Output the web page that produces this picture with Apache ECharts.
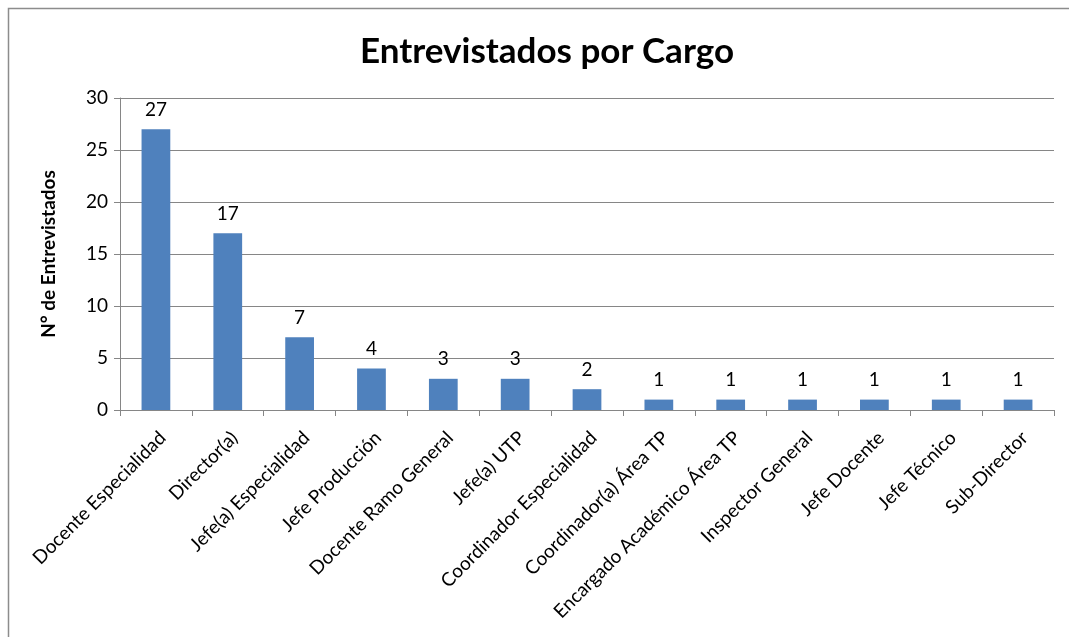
<!DOCTYPE html>
<html>
<head>
<meta charset="utf-8">
<script src="https://cdn.jsdelivr.net/npm/echarts@6/dist/echarts.min.js"></script>
<style>
  html, body { margin: 0; padding: 0; background: #fff; }
  #chart { width: 1069px; height: 637px; }
</style>
</head>
<body>
<div id="chart"></div>
<script>
// Interviewees grouped by job title
const cargos = [
  'Docente Especialidad', 'Director(a)', 'Jefe(a) Especialidad', 'Jefe Producción',
  'Docente Ramo General', 'Jefe(a) UTP', 'Coordinador Especialidad',
  'Coordinador(a) Área TP', 'Encargado Académico Área TP', 'Inspector General',
  'Jefe Docente', 'Jefe Técnico', 'Sub-Director'
];
const entrevistados = [27, 17, 7, 4, 3, 3, 2, 1, 1, 1, 1, 1, 1];
const yTicks = { min: 0, max: 30, interval: 5 };

const FONT = 'Lato, "Open Sans", sans-serif';
const GRID_COLOR = '#868686';

const chart = echarts.init(document.getElementById('chart'), null, { renderer: 'canvas' });
chart.setOption({
  animation: false,
  backgroundColor: '#ffffff',
  textStyle: { fontFamily: FONT },
  graphic: [{
    type: 'rect',
    shape: { x: 8.5, y: 8.5, width: 1080, height: 700 },
    style: { fill: 'none', stroke: '#8c8c8c', lineWidth: 1.5 },
    silent: true
  }],
  title: {
    text: 'Entrevistados por Cargo',
    left: 542, top: 29, textAlign: 'center',
    textStyle: { fontFamily: FONT, fontWeight: 'bold', fontSize: 35, color: '#000' }
  },
  grid: { left: 120, right: 15, top: 98, bottom: 227, containLabel: false },
  xAxis: {
    type: 'category',
    data: cargos,
    axisLine: { lineStyle: { color: GRID_COLOR, width: 1 } },
    axisTick: { show: true, length: 6, alignWithLabel: false, lineStyle: { color: GRID_COLOR } },
    axisLabel: {
      interval: 0, rotate: 45, margin: 18, verticalAlign: 'top',
      fontFamily: FONT, fontSize: 19, color: '#000'
    }
  },
  yAxis: {
    type: 'value',
    min: yTicks.min, max: yTicks.max, interval: yTicks.interval,
    name: 'N° de Entrevistados',
    nameLocation: 'middle', nameGap: 62, nameRotate: 90,
    nameTextStyle: { fontFamily: FONT, fontWeight: 'bold', fontSize: 19, color: '#000' },
    axisLine: { show: true, lineStyle: { color: GRID_COLOR, width: 1 } },
    axisTick: { show: true, length: 6, lineStyle: { color: GRID_COLOR } },
    axisLabel: { margin: 12, fontFamily: FONT, fontSize: 19, color: '#000' },
    splitLine: { show: true, lineStyle: { color: GRID_COLOR, width: 1 } }
  },
  series: [{
    type: 'bar',
    data: entrevistados,
    barWidth: '40%',
    itemStyle: { color: '#4F81BD' },
    label: {
      show: true, position: 'top', distance: 10,
      fontFamily: FONT, fontSize: 19, color: '#000'
    }
  }]
});
</script>
</body>
</html>
